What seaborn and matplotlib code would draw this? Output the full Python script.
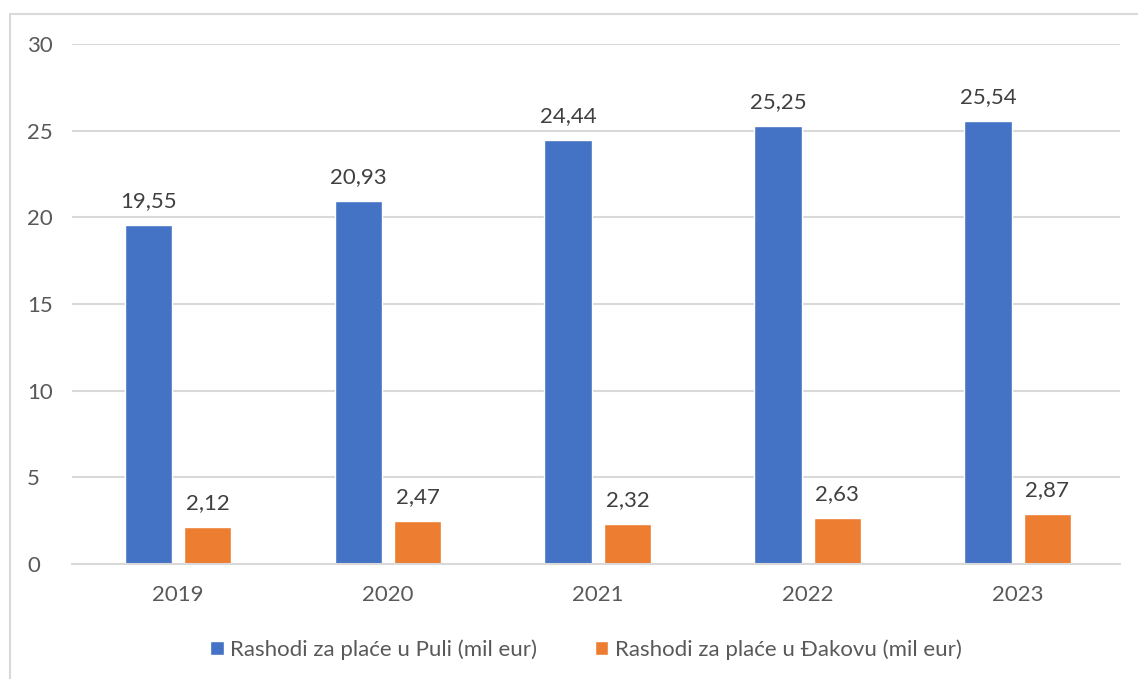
import pandas as pd
import matplotlib.pyplot as plt
import seaborn as sns
from matplotlib.lines import Line2D
from matplotlib.patches import Patch

years = ["2019", "2020", "2021", "2022", "2023"]
pula = [19.55, 20.93, 24.44, 25.25, 25.54]
dakovo = [2.12, 2.47, 2.32, 2.63, 2.87]
series_names = ["Rashodi za plaće u Puli (mil eur)", "Rashodi za plaće u Đakovu (mil eur)"]
colors = ["#4472C4", "#ED7D31"]

df = pd.DataFrame({
    "Godina": years * 2,
    "Vrijednost": pula + dakovo,
    "Serija": [series_names[0]] * 5 + [series_names[1]] * 5,
})

sns.set_style("white")
plt.rcParams["font.family"] = ["Lato", "DejaVu Sans"]
text_col = "#595959"

fig = plt.figure(figsize=(11.38, 6.79), dpi=100)
ax = fig.add_axes([0.0633, 0.1694, 0.9207, 0.7656])

sns.barplot(data=df, x="Godina", y="Vrijednost", hue="Serija", palette=colors,
            width=0.565, gap=0.2, ax=ax, legend=False, saturation=1)

# data labels
for cont in ax.containers:
    ax.bar_label(cont, labels=[f"{v:.2f}".replace(".", ",") for v in cont.datavalues],
                 padding=10, fontsize=16, color="#404040")

ax.set_xlim(-0.505, 4.487)
ax.set_ylim(0, 30)
ax.set_yticks(range(0, 31, 5))
ax.yaxis.grid(True, color="#D9D9D9", linewidth=1.5)
ax.set_axisbelow(True)
for s in ["top", "right", "left"]:
    ax.spines[s].set_visible(False)
ax.spines["bottom"].set_color("#D9D9D9")
ax.spines["bottom"].set_linewidth(1.5)
ax.tick_params(axis="both", length=0, labelsize=16, labelcolor=text_col)
ax.tick_params(axis="x", pad=15)
ax.tick_params(axis="y", pad=32.5)
for lab in ax.get_yticklabels():
    lab.set_horizontalalignment("left")
ax.set_xlabel("")
ax.set_ylabel("")

handles = [Patch(facecolor=c) for c in colors]
fig.legend(handles, series_names, loc="center", bbox_to_anchor=(0.515, 0.043),
           ncol=2, frameon=False, fontsize=16, labelcolor=text_col,
           handlelength=0.6, handleheight=0.6, handletextpad=0.3, columnspacing=2.6)

# chart-area border (light grey, only left and top visible)
fig.add_artist(Line2D([10 / 1138, 10 / 1138], [0, 1 - 14 / 679], transform=fig.transFigure,
                      color="#D9D9D9", linewidth=1.5))
fig.add_artist(Line2D([10 / 1138, 1], [1 - 14 / 679, 1 - 14 / 679], transform=fig.transFigure,
                      color="#D9D9D9", linewidth=1.5))

plt.savefig("out.png", dpi=100)
